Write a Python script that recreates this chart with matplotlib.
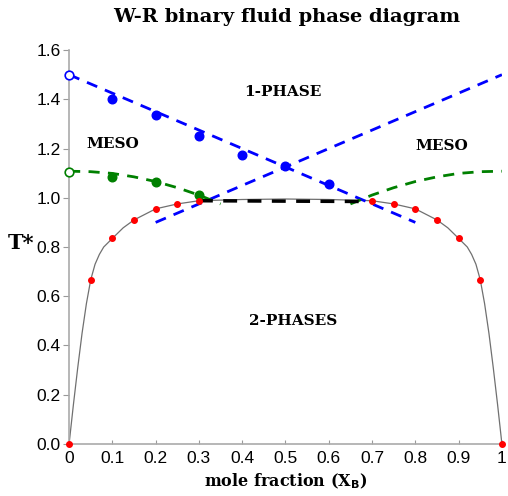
#Phase diagram of the W-R binary fluid
from matplotlib import pyplot as plt

#coexistence curve (red points) and grey line through them
coex_x = [0, 0.05, 0.1, 0.15, 0.2, 0.25, 0.3, 0.7, 0.75, 0.8, 0.85, 0.9, 0.95, 1.0]
coex_t = [0, 0.667, 0.835, 0.91, 0.955, 0.975, 0.988, 0.988, 0.975, 0.955, 0.91, 0.835, 0.667, 0]
curve_x = [0, 0.01, 0.02, 0.03, 0.04, 0.05, 0.06, 0.07, 0.08, 0.1, 0.125, 0.15, 0.2, 0.25, 0.3, 0.4, 0.5,
           0.6, 0.7, 0.75, 0.8, 0.85, 0.875, 0.9, 0.92, 0.93, 0.94, 0.95, 0.96, 0.97, 0.98, 0.99, 1.0]
curve_t = [0, 0.16, 0.31, 0.45, 0.57, 0.667, 0.73, 0.77, 0.80, 0.835, 0.878, 0.91, 0.955, 0.975, 0.988, 0.993, 0.995,
           0.993, 0.988, 0.975, 0.955, 0.91, 0.878, 0.835, 0.80, 0.77, 0.73, 0.667, 0.57, 0.45, 0.31, 0.16, 0]

#blue data (upper transition)
blue_x = [0.1, 0.2, 0.3, 0.4, 0.5, 0.6]
blue_t = [1.40, 1.335, 1.25, 1.175, 1.13, 1.055]
blue_open = (0, 1.5)
blue_line1_x = [0, 0.8]
blue_line1_t = [1.5, 0.9]
blue_line2_x = [0.2, 1.0]
blue_line2_t = [0.9, 1.5]

#green data (meso transition)
green_x = [0.1, 0.2, 0.3]
green_t = [1.085, 1.065, 1.01]
green_open = (0, 1.105)
green_left_x = [0, 0.05, 0.1, 0.15, 0.2, 0.25, 0.3, 0.35]
green_left_t = [1.108, 1.106, 1.099, 1.085, 1.066, 1.041, 1.011, 0.975]
green_right_x = [0.65, 0.7, 0.75, 0.8, 0.85, 0.9, 0.95, 1.0]
green_right_t = [0.975, 1.011, 1.041, 1.066, 1.085, 1.099, 1.106, 1.108]

#black tie line
tie_x = [0.3, 0.67]
tie_t = [0.988, 0.985]

fig = plt.figure(figsize=(5.08, 4.96), dpi=100)
ax = fig.add_axes([0.136, 0.105, 0.852, 0.794])

ax.plot(curve_x, curve_t, '-', color='#707070', lw=0.9, zorder=2)
ax.plot(coex_x, coex_t, 'o', color='red', ms=4, zorder=5, clip_on=False)

ax.plot(blue_line1_x, blue_line1_t, '--', color='blue', lw=2, dashes=(4, 3), zorder=3)
ax.plot(blue_line2_x, blue_line2_t, '--', color='blue', lw=2, dashes=(4, 3), zorder=3)
ax.plot(blue_x, blue_t, 'o', color='blue', ms=6.2, zorder=4)
ax.plot([blue_open[0]], [blue_open[1]], 'o', mfc='white', mec='blue', mew=1.2, ms=6.2, zorder=4, clip_on=False)

ax.plot(green_left_x, green_left_t, '--', color='green', lw=2, dashes=(4, 3), zorder=3)
ax.plot(green_right_x, green_right_t, '--', color='green', lw=2, dashes=(4, 3), zorder=3)
ax.plot(green_x, green_t, 'o', color='green', ms=6.2, zorder=4)
ax.plot([green_open[0]], [green_open[1]], 'o', mfc='white', mec='green', mew=1.2, ms=6.2, zorder=4, clip_on=False)

ax.plot(tie_x, tie_t, '--', color='black', lw=2.5, dashes=(4, 3), zorder=3)

serif = 'DejaVu Serif'
ax.text(0.404, 1.43, '1-PHASE', family=serif, weight='bold', fontsize=11, va='center')
ax.text(0.041, 1.218, 'MESO', family=serif, weight='bold', fontsize=11, va='center')
ax.text(0.80, 1.21, 'MESO', family=serif, weight='bold', fontsize=11, va='center')
ax.text(0.415, 0.5, '2-PHASES', family=serif, weight='bold', fontsize=11, va='center')

ax.set_xlim(0, 1)
ax.set_ylim(0, 1.6)
ax.set_xticks([0, 0.1, 0.2, 0.3, 0.4, 0.5, 0.6, 0.7, 0.8, 0.9, 1.0])
ax.set_xticklabels(['0', '0.1', '0.2', '0.3', '0.4', '0.5', '0.6', '0.7', '0.8', '0.9', '1'])
ax.set_yticks([0, 0.2, 0.4, 0.6, 0.8, 1.0, 1.2, 1.4, 1.6])
ax.set_yticklabels(['0.0', '0.2', '0.4', '0.6', '0.8', '1.0', '1.2', '1.4', '1.6'])
ax.tick_params(axis='x', direction='in', length=3, color='#999999', labelsize=12.5, pad=5)
ax.tick_params(axis='y', direction='out', length=4, color='#999999', labelsize=12.5, pad=2)
for lbl in ax.get_xticklabels() + ax.get_yticklabels():
    lbl.set_family('Liberation Sans')
for s in ['top', 'right']:
    ax.spines[s].set_visible(False)
for s in ['left', 'bottom']:
    ax.spines[s].set_color('#aaaaaa')
    ax.spines[s].set_linewidth(1.2)

ax.set_xlabel('mole fraction (X$_\\mathbf{B}$)', family=serif, weight='bold', fontsize=11.5, labelpad=4)
fig.text(0.016, 0.51, 'T*', family=serif, weight='bold', fontsize=15, va='center')
fig.text(0.565, 0.955, 'W-R binary fluid phase diagram', family=serif, weight='bold', fontsize=14, ha='center')

plt.savefig('out.png', dpi=100)
